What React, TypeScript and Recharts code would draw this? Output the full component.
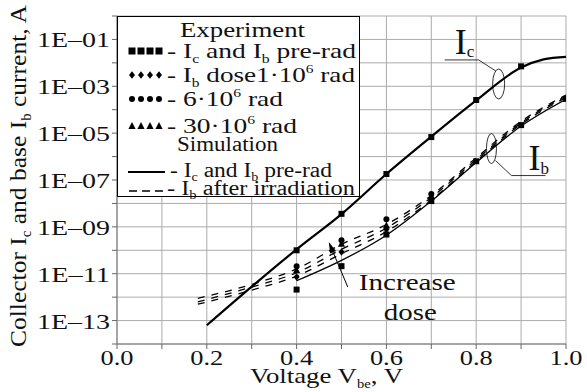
import {
  ComposedChart,
  Line,
  XAxis,
  YAxis,
  CartesianGrid,
  Legend,
  ReferenceDot,
  Label,
} from "recharts";

const FONT = "'Liberation Serif', 'DejaVu Serif', 'Times New Roman', serif";

// simulation, Ic pre-rad
const V_IC_SIM = [0.2, 0.3, 0.4, 0.5, 0.6, 0.7, 0.8, 0.9, 0.95, 1.0];
const IC_SIM = [6.3e-14, 2.8e-12, 1.1e-10, 3.5e-9, 1.8e-7, 7.1e-6, 2.5e-4, 6.3e-3, 1.4e-2, 1.8e-2];

// simulation, Ib pre-rad
const V_IB_SIM = [0.4, 0.5, 0.6, 0.7, 0.8, 0.9, 1.0];
const IB_SIM = [5.0e-12, 3.7e-11, 4.4e-10, 1.26e-8, 5.6e-7, 2.0e-5, 2.8e-4];

// simulation, Ib after irradiation (three doses)
const V_IB_IRR = [0.18, 0.3, 0.4, 0.5, 0.6, 0.7, 0.8, 0.9, 1.0];
const IB_IRR_1 = [5.0e-13, 2.0e-12, 7.9e-12, 7.1e-11, 6.3e-10, 1.4e-8, 6.3e-7, 2.4e-5, 3.3e-4];
const IB_IRR_6 = [6.3e-13, 2.7e-12, 1.1e-11, 1.1e-10, 8.9e-10, 1.8e-8, 7.4e-7, 2.75e-5, 3.8e-4];
const IB_IRR_30 = [8.9e-13, 3.5e-12, 1.6e-11, 1.8e-10, 1.26e-9, 2.2e-8, 8.9e-7, 3.2e-5, 4.2e-4];

// experiment
const V_EXP = [0.4, 0.5, 0.6, 0.7, 0.8, 0.9, 1.0];
const IC_EXP = [1.0e-10, 3.6e-9, 1.8e-7, 6.8e-6, 2.6e-4, 7.1e-3];
const IB_EXP_PRE = [2.1e-12, 2.1e-11, 4.7e-10, 1.26e-8, 6.3e-7, 2.2e-5, 2.9e-4];
const V_DOSE = [0.4, 0.5, 0.6, 0.7];
const IB_EXP_1 = [7.2e-12, 8.5e-11, 7.8e-10, 1.8e-8];
const IB_EXP_6 = [2.1e-11, 2.7e-10, 2.1e-9, 2.5e-8];
const IB_EXP_30 = [1.4e-11, 1.9e-10, 1.15e-9, 2.0e-8];

const X_TICKS = [0, 0.1, 0.2, 0.3, 0.4, 0.5, 0.6, 0.7, 0.8, 0.9, 1.0];
const Y_TICKS = [1e-14, 1e-13, 1e-12, 1e-11, 1e-10, 1e-9, 1e-8, 1e-7, 1e-6, 1e-5, 1e-4, 1e-3, 1e-2, 1e-1, 1];

const pts = (vs: number[], is: number[]) =>
  is.map((i, k) => ({ v: vs[k], i }));

type Kind = "square" | "diamond" | "circle" | "triangle";

function Marker({ kind, cx, cy, s = 6 }: { kind: Kind; cx: number; cy: number; s?: number }) {
  const h = s / 2;
  if (kind === "square") return <rect x={cx - h} y={cy - h} width={s} height={s} fill="#000" />;
  if (kind === "circle") return <circle cx={cx} cy={cy} r={h} fill="#000" />;
  if (kind === "diamond")
    return (
      <polygon
        points={`${cx},${cy - h - 0.8} ${cx + h},${cy} ${cx},${cy + h + 0.8} ${cx - h},${cy}`}
        fill="#000"
      />
    );
  return (
    <polygon
      points={`${cx},${cy - h - 1} ${cx + h + 0.6},${cy + h} ${cx - h - 0.6},${cy + h}`}
      fill="#000"
    />
  );
}

const dotOf = (kind: Kind) => (p: any) =>
  <Marker key={`${kind}-${p.index}`} kind={kind} cx={p.cx} cy={p.cy} />;

// subscript followed by the rest of the line on the normal baseline
const sub = (t: string, rest: string, size = 12, shift = 5) => (
  <>
    <tspan fontSize={size} dy={shift}>{t}</tspan>
    <tspan dy={-shift}>{rest}</tspan>
  </>
);
const sup = (t: string, rest: string) => (
  <>
    <tspan fontSize={12} dy={-9}>{t}</tspan>
    <tspan dy={9}>{rest}</tspan>
  </>
);

function FitText({ x, y, w, size = 22, children }: any) {
  return (
    <text
      x={x}
      y={y}
      textLength={w}
      lengthAdjust="spacingAndGlyphs"
      fontSize={size}
      style={{ fontFamily: FONT }}
      fill="#111"
    >
      {children}
    </text>
  );
}

function LegendBox() {
  const mx = [14, 23, 32, 41];
  return (
    <div style={{ width: 243, height: 181, border: "1px solid #000", background: "#fff", boxSizing: "border-box" }}>
      <svg width={241} height={179} style={{ display: "block", overflow: "visible" }}>
        <FitText x={62} y={20} w={125} size={21}>Experiment</FitText>
        {mx.map((x) => <Marker key={`s${x}`} kind="square" cx={x} cy={34} s={7} />)}
        <FitText x={49} y={41} w={189} size={21}>- I{sub("c", " and I")}{sub("b", " pre-rad")}</FitText>
        {mx.map((x) => <Marker key={`d${x}`} kind="diamond" cx={x} cy={58} s={6} />)}
        <FitText x={49} y={65} w={188} size={21}>- I{sub("b", " dose1·10")}{sup("6", " rad")}</FitText>
        {mx.map((x) => <Marker key={`c${x}`} kind="circle" cx={x} cy={82} s={6} />)}
        <FitText x={49} y={89} w={116} size={21}>- 6·10{sup("6", " rad")}</FitText>
        {mx.map((x) => <Marker key={`t${x}`} kind="triangle" cx={x} cy={109} s={6} />)}
        <FitText x={49} y={116} w={130} size={21}>- 30·10{sup("6", " rad")}</FitText>
        <FitText x={59} y={134} w={101} size={20}>Simulation</FitText>
        <line x1={10} x2={47} y1={155} y2={155} stroke="#000" strokeWidth={2} />
        <FitText x={52} y={160} w={162} size={20}>- I{sub("c", " and I", 12, 4)}{sub("b", " pre-rad", 12, 4)}</FitText>
        <line x1={11} x2={45} y1={174} y2={174} stroke="#000" strokeWidth={1.5} strokeDasharray="8 5" />
        <FitText x={49} y={178} w={188} size={20}>- I{sub("b", " after irradiation", 12, 4)}</FitText>
      </svg>
    </div>
  );
}

function XTick({ x, y, payload }: any) {
  const v = payload.value as number;
  if (Math.round(v * 10) % 2 !== 0) return <g />;
  return (
    <FitText x={x - 16.5} y={y + 14} w={33}>{v.toFixed(1)}</FitText>
  );
}

function YTick({ x, y, payload }: any) {
  const e = Math.round(Math.log10(payload.value));
  if (e % 2 === 0) return <g />;
  const lbl = `1E\u2013${String(-e).padStart(2, "0")}`;
  return <FitText x={x - 73} y={y + 8} w={73}>{lbl}</FitText>;
}

function YTitle() {
  return (
    <text
      transform="translate(26,347) rotate(-90)"
      textLength={342}
      lengthAdjust="spacingAndGlyphs"
      fontSize={24}
      style={{ fontFamily: FONT }}
      fill="#111"
    >
      Collector I{sub("c", " and base I", 14)}{sub("b", " current, A", 14)}
    </text>
  );
}

function XTitle() {
  return (
    <FitText x={250} y={383} w={153}>Voltage V{sub("be", ", V", 12)}</FitText>
  );
}

function IcNote({ cx, cy }: any) {
  return (
    <g stroke="#000" strokeWidth={0.8} fill="none">
      <ellipse cx={cx} cy={cy} rx={6} ry={15} />
      <polyline points={`${cx - 3},${cy - 13} ${cx - 20},${cy - 24} ${cx - 54},${cy - 24}`} />
      <text x={cx - 44} y={cy - 30} fontSize={36} style={{ fontFamily: FONT }} fill="#111" stroke="none">
        I{sub("c", "", 17, 3)}
      </text>
    </g>
  );
}

function IbNote({ cx, cy }: any) {
  return (
    <g stroke="#000" strokeWidth={0.8} fill="none">
      <ellipse cx={cx} cy={cy} rx={5} ry={15} />
      <polyline points={`${cx + 4},${cy + 12} ${cx + 20},${cy + 27} ${cx + 54},${cy + 27}`} />
      <text x={cx + 37} y={cy + 21} fontSize={36} style={{ fontFamily: FONT }} fill="#111" stroke="none">
        I{sub("b", "", 17, 4)}
      </text>
    </g>
  );
}

function DoseNote({ cx, cy }: any) {
  const tx = cx - 19;
  const ty = cy - 45;
  const len = Math.hypot(19, 45);
  const dx = -19 / len;
  const dy = -45 / len;
  const bx = tx - dx * 11;
  const by = ty - dy * 11;
  const px = -dy * 3.2;
  const py = dx * 3.2;
  return (
    <g>
      <line x1={cx} y1={cy} x2={bx} y2={by} stroke="#000" strokeWidth={1} />
      <polygon points={`${tx},${ty} ${bx + px},${by + py} ${bx - px},${by - py}`} fill="#000" />
      <FitText x={cx + 11} y={cy + 3} w={97} size={24}>Increase</FitText>
      <FitText x={cx + 36} y={cy + 33} w={53} size={24}>dose</FitText>
    </g>
  );
}

export default function App() {
  return (
    <div style={{ width: 587, height: 392, background: "#fff" }}>
      <style>{`body{margin:0}`}</style>
      <ComposedChart width={587} height={392} margin={{ top: 16, right: 21, bottom: 0, left: 0 }}>
        <CartesianGrid stroke="#ababab" strokeWidth={1} />
        <XAxis
          type="number"
          dataKey="v"
          domain={[0, 1]}
          ticks={X_TICKS}
          allowDataOverflow
          height={48}
          tick={<XTick />}
          tickSize={5}
          tickLine={{ stroke: "#666" }}
          axisLine={{ stroke: "#777" }}
        >
          <Label content={<XTitle />} />
        </XAxis>
        <YAxis
          type="number"
          scale="log"
          domain={[1e-14, 1]}
          ticks={Y_TICKS}
          allowDataOverflow
          width={117}
          tick={<YTick />}
          tickSize={5}
          tickLine={{ stroke: "#666" }}
          axisLine={{ stroke: "#777" }}
        >
          <Label content={<YTitle />} />
        </YAxis>
        <Legend
          layout="vertical"
          align="center"
          verticalAlign="middle"
          wrapperStyle={{ top: 16, left: 117, width: 243, height: 181 }}
          content={() => <LegendBox />}
        />

        <Line data={pts(V_IC_SIM, IC_SIM)} dataKey="i" type="monotone" stroke="#000" strokeWidth={2.2} dot={false} activeDot={false} isAnimationActive={false} />
        <Line data={pts(V_IB_SIM, IB_SIM)} dataKey="i" type="monotone" stroke="#000" strokeWidth={1.3} dot={false} activeDot={false} isAnimationActive={false} />
        <Line data={pts(V_IB_IRR, IB_IRR_1)} dataKey="i" type="monotone" stroke="#000" strokeWidth={1.3} strokeDasharray="7 7" dot={false} activeDot={false} isAnimationActive={false} />
        <Line data={pts(V_IB_IRR, IB_IRR_6)} dataKey="i" type="monotone" stroke="#000" strokeWidth={1.3} strokeDasharray="7 7" dot={false} activeDot={false} isAnimationActive={false} />
        <Line data={pts(V_IB_IRR, IB_IRR_30)} dataKey="i" type="monotone" stroke="#000" strokeWidth={1.3} strokeDasharray="7 7" dot={false} activeDot={false} isAnimationActive={false} />

        <Line data={pts(V_EXP, IC_EXP)} dataKey="i" stroke="none" dot={dotOf("square")} activeDot={false} isAnimationActive={false} />
        <Line data={pts(V_EXP, IB_EXP_PRE)} dataKey="i" stroke="none" dot={dotOf("square")} activeDot={false} isAnimationActive={false} />
        <Line data={pts(V_DOSE, IB_EXP_1)} dataKey="i" stroke="none" dot={dotOf("diamond")} activeDot={false} isAnimationActive={false} />
        <Line data={pts(V_DOSE, IB_EXP_30)} dataKey="i" stroke="none" dot={dotOf("triangle")} activeDot={false} isAnimationActive={false} />
        <Line data={pts(V_DOSE, IB_EXP_6)} dataKey="i" stroke="none" dot={dotOf("circle")} activeDot={false} isAnimationActive={false} />

        <ReferenceDot x={0.85} y={1.26e-3} r={1} shape={(p: any) => <IcNote cx={p.cx} cy={p.cy} />} />
        <ReferenceDot x={0.834} y={2.2e-6} r={1} shape={(p: any) => <IbNote cx={p.cx} cy={p.cy} />} />
        <ReferenceDot x={0.514} y={2.7e-12} r={1} shape={(p: any) => <DoseNote cx={p.cx} cy={p.cy} />} />
      </ComposedChart>
    </div>
  );
}
